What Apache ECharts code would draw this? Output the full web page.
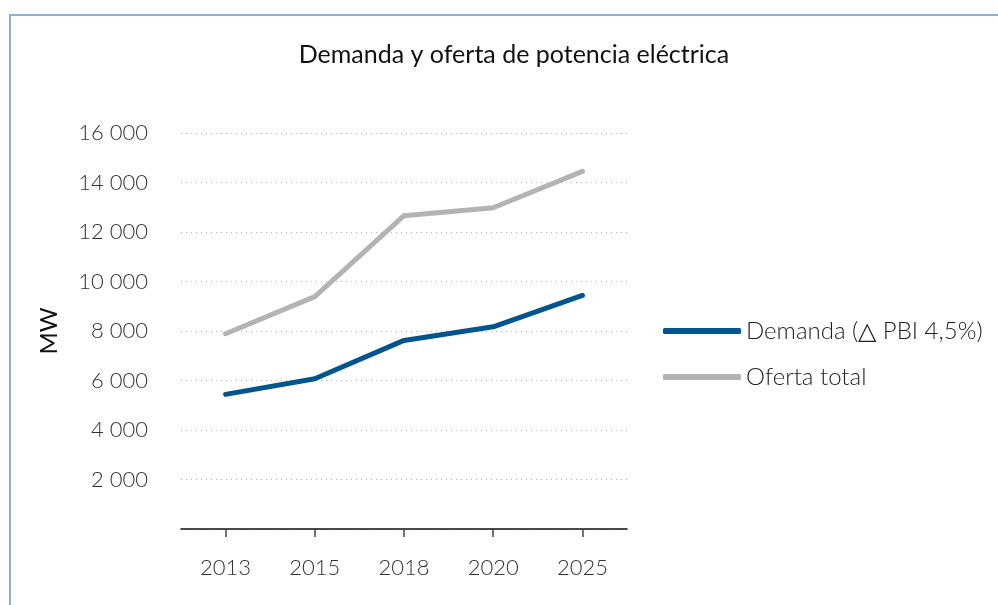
<!DOCTYPE html>
<html lang="es">
<head>
<meta charset="utf-8">
<title>Demanda y oferta de potencia eléctrica</title>
<script src="https://cdn.jsdelivr.net/npm/echarts@6/dist/echarts.min.js"></script>
<style>
    html, body {margin: 0; padding: 0; background: #fff; overflow: hidden;}
    #frame {position: absolute; left: 9px; top: 14px; width: 1100px; height: 700px;
            border-top: 2px solid #8eb0d2; border-left: 2px solid #8eb0d2;}
    #chart {position: absolute; left: 0; top: 0; width: 998px; height: 605px;}
</style>
</head>
<body>
<div id="frame"></div>
<div id="chart"></div>
<script>
    var years = ['2013', '2015', '2018', '2020', '2025'];
    var demanda = [5440, 6070, 7620, 8170, 9440];
    var oferta = [7890, 9390, 12660, 12980, 14450];
    var yTicks = [0, 2000, 4000, 6000, 8000, 10000, 12000, 14000, 16000];

    var font = 'Lato, "Open Sans", sans-serif';
    var chart = echarts.init(document.getElementById('chart'));
    chart.setOption({
        animation: false,
        textStyle: {fontFamily: font},
        title: {
            text: 'Demanda y oferta de potencia eléctrica',
            left: 509, top: 37, textAlign: 'center',
            textStyle: {fontFamily: font, fontSize: 25, fontWeight: 'normal', color: '#111'}
        },
        grid: {left: 181, right: 371, top: 133, bottom: 76},
        legend: {
            orient: 'vertical', left: 658, top: 314, itemGap: 22,
            itemWidth: 78, itemHeight: 6, icon: 'roundRect',
            textStyle: {fontFamily: font, fontSize: 24, fontWeight: 300, color: '#222'},
            data: ['Demanda (\u25B3 PBI 4,5%)', 'Oferta total']
        },
        xAxis: {
            type: 'category', data: years, boundaryGap: true,
            axisLine: {lineStyle: {color: '#111', width: 1.5}},
            axisTick: {show: true, alignWithLabel: true, length: 8, lineStyle: {color: '#444', width: 1.5}},
            axisLabel: {fontFamily: font, fontSize: 22, fontWeight: 300, color: '#333', margin: 28}
        },
        yAxis: {
            type: 'value', min: yTicks[0], max: yTicks[yTicks.length - 1], interval: 2000,
            name: 'MW', nameLocation: 'middle', nameGap: 120, nameRotate: 90,
            nameTextStyle: {fontFamily: font, fontSize: 24, color: '#111'},
            axisLine: {show: false}, axisTick: {show: false},
            axisLabel: {
                fontFamily: font, fontSize: 22, fontWeight: 300, color: '#333', margin: 33,
                formatter: function (v) {
                    if (v === 0) return '';
                    return String(v).replace(/\B(?=(\d{3})+(?!\d))/g, ' ');
                }
            },
            splitLine: {lineStyle: {color: '#b0b0b0', type: [1, 4], width: 1.2}}
        },
        series: [{
            name: 'Demanda (\u25B3 PBI 4,5%)', type: 'line', data: demanda,
            showSymbol: false, symbol: 'none',
            lineStyle: {color: '#00568c', width: 5, cap: 'round', join: 'round'},
            itemStyle: {color: '#00568c'}
        }, {
            name: 'Oferta total', type: 'line', data: oferta,
            showSymbol: false, symbol: 'none',
            lineStyle: {color: '#b3b3b3', width: 5, cap: 'round', join: 'round'},
            itemStyle: {color: '#b3b3b3'}
        }]
    });
</script>
</body>
</html>
